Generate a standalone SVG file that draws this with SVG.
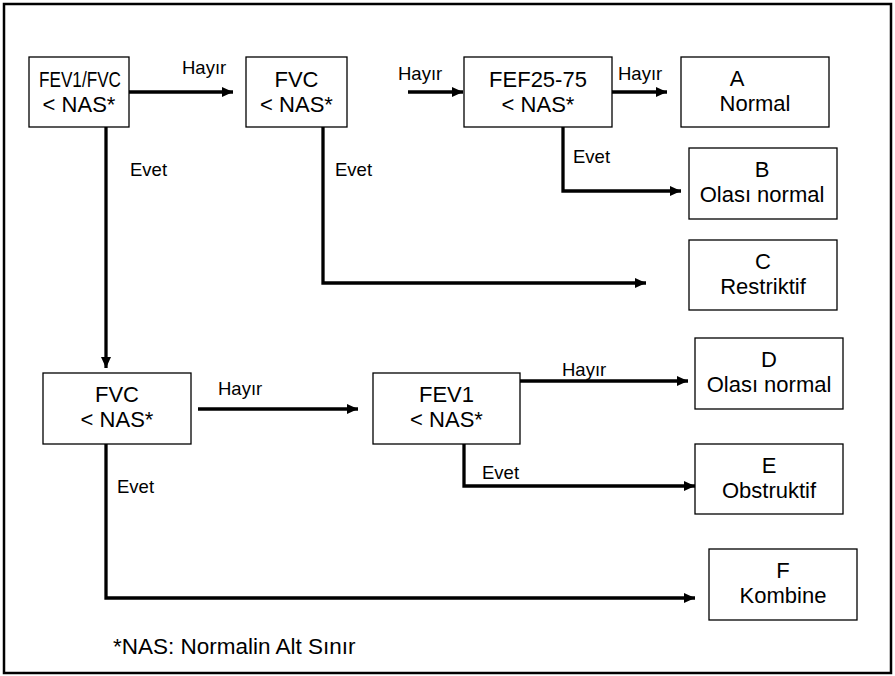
<svg xmlns="http://www.w3.org/2000/svg" width="895" height="676" viewBox="0 0 895 676">
<style>
.box{fill:#fff;stroke:#000;stroke-width:1.3}
.t{font-family:"Liberation Sans",Arial,sans-serif;font-size:22px;fill:#000;text-anchor:middle}
.lbl{font-family:"Liberation Sans",Arial,sans-serif;font-size:18.5px;fill:#000}
.c{fill:none;stroke:#000;stroke-width:3.3;marker-end:url(#ah)}
</style>
<defs>
<marker id="ah" markerUnits="userSpaceOnUse" markerWidth="12" markerHeight="10" refX="11" refY="5" orient="auto">
<path d="M0,0 L11,5 L0,10 z" fill="#000"/>
</marker>
</defs>
<rect width="895" height="676" fill="#fff"/>
<rect x="4" y="4" width="887" height="669" fill="none" stroke="#000" stroke-width="2.5"/>
<g id="connectors">
<path class="c" d="M129,92 H233"/>
<path class="c" d="M408,92 H463"/>
<path class="c" d="M612,92 H667"/>
<path class="c" d="M563,127 V191 H681"/>
<path class="c" d="M323,127 V283 H646"/>
<path class="c" d="M106,127 V368"/>
<path class="c" d="M198,409 H358"/>
<path class="c" d="M106,444 V598 H695"/>
<path class="c" d="M520,381 H688"/>
<path class="c" d="M464,444 V486 H695"/>
<text class="lbl" x="182" y="74">Hayır</text>
<text class="lbl" x="398" y="80">Hayır</text>
<text class="lbl" x="618" y="80">Hayır</text>
<text class="lbl" x="130" y="176">Evet</text>
<text class="lbl" x="335" y="176">Evet</text>
<text class="lbl" x="573" y="163">Evet</text>
<text class="lbl" x="218" y="395">Hayır</text>
<text class="lbl" x="562" y="376">Hayır</text>
<text class="lbl" x="482" y="479">Evet</text>
<text class="lbl" x="117" y="493">Evet</text>
</g>
<g id="n1"><rect class="box" x="29" y="57" width="100" height="70"/><text class="t" x="80" y="87" textLength="82" lengthAdjust="spacingAndGlyphs">FEV1/FVC</text><text class="t" x="79" y="112">&lt; NAS*</text></g>
<g id="n2"><rect class="box" x="246" y="57" width="101" height="70"/><text class="t" x="296.5" y="87">FVC</text><text class="t" x="296.5" y="112">&lt; NAS*</text></g>
<g id="n3"><rect class="box" x="464" y="57" width="148" height="70"/><text class="t" x="538" y="87">FEF25-75</text><text class="t" x="538" y="112">&lt; NAS*</text></g>
<g id="nA"><rect class="box" x="681" y="57" width="148" height="70"/><text class="t" x="737" y="86">A</text><text class="t" x="755" y="111">Normal</text></g>
<g id="nB"><rect class="box" x="689" y="148" width="148" height="71"/><text class="t" x="762" y="177">B</text><text class="t" x="762" y="202">Olası normal</text></g>
<g id="nC"><rect class="box" x="689" y="240" width="148" height="70"/><text class="t" x="763" y="269">C</text><text class="t" x="763" y="294">Restriktif</text></g>
<g id="n4"><rect class="box" x="43" y="373" width="148" height="71"/><text class="t" x="117" y="402">FVC</text><text class="t" x="117" y="427">&lt; NAS*</text></g>
<g id="n5"><rect class="box" x="373" y="373" width="147" height="71"/><text class="t" x="446.5" y="402">FEV1</text><text class="t" x="446.5" y="427">&lt; NAS*</text></g>
<g id="nD"><rect class="box" x="695" y="338" width="148" height="71"/><text class="t" x="769" y="367">D</text><text class="t" x="769" y="392">Olası normal</text></g>
<g id="nE"><rect class="box" x="695" y="444" width="148" height="70"/><text class="t" x="769" y="473">E</text><text class="t" x="769" y="498">Obstruktif</text></g>
<g id="nF"><rect class="box" x="709" y="549" width="148" height="71"/><text class="t" x="783" y="578">F</text><text class="t" x="783" y="603">Kombine</text></g>
<text x="113" y="654" font-family="'Liberation Sans',Arial,sans-serif" font-size="22.5" fill="#000">*NAS: Normalin Alt Sınır</text>
</svg>
